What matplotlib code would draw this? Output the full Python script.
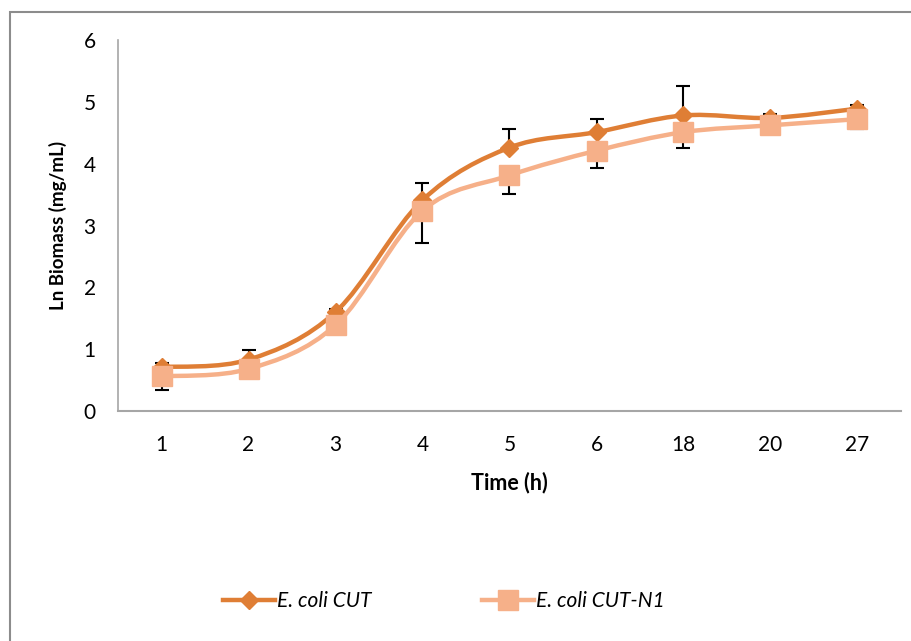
import matplotlib
matplotlib.use("Agg")
from matplotlib import pyplot as plt
from matplotlib.path import Path
from matplotlib.patches import PathPatch, Rectangle
from matplotlib.lines import Line2D
import numpy as np

plt.rcParams['font.family'] = ['Lato', 'DejaVu Sans']

times = ['1', '2', '3', '4', '5', '6', '18', '20', '27']
cut = [0.71, 0.83, 1.60, 3.41, 4.26, 4.51, 4.78, 4.74, 4.89]
cut_err = [0.07, 0.16, 0.05, 0.28, 0.30, 0.21, 0.48, 0.06, 0.06]
n1 = [0.56, 0.68, 1.39, 3.24, 3.81, 4.21, 4.51, 4.62, 4.72]
n1_err = [0.22, 0.05, 0.05, 0.52, 0.30, 0.28, 0.25, 0.05, 0.16]

col_cut = '#DF7E35'
col_n1 = '#F6B089'


def smooth_path(x, y):
    # excel style smoothed line: cubic bezier between points
    pts = np.column_stack([x, y])
    n = len(pts)
    verts = [pts[0]]
    codes = [Path.MOVETO]
    for i in range(n - 1):
        p0 = pts[i - 1] if i > 0 else pts[i]
        p1 = pts[i]
        p2 = pts[i + 1]
        p3 = pts[i + 2] if i + 2 < n else pts[i + 1]
        c1 = p1 + (p2 - p0) / 6
        c2 = p2 - (p3 - p1) / 6
        verts += [c1, c2, p2]
        codes += [Path.CURVE4] * 3
    return Path(verts, codes)


fig = plt.figure(figsize=(9.12, 6.41), dpi=100)
fig.patches.append(Rectangle((10 / 912, -0.1), 1.2, 1.1 - 12 / 641,
                             transform=fig.transFigure, fill=False,
                             edgecolor='#8c8c8c', linewidth=1.5))
ax = fig.add_axes([118 / 912, 1 - 411 / 641, 783 / 912, 371 / 641])

x = np.arange(len(times))

ax.errorbar(x, cut, yerr=[np.zeros(len(cut)), cut_err], fmt='none',
            ecolor='black', elinewidth=1.5, capsize=5, capthick=1.5, zorder=2)
ax.errorbar(x, n1, yerr=[n1_err, np.zeros(len(n1))], fmt='none',
            ecolor='black', elinewidth=1.5, capsize=5, capthick=1.5, zorder=2)

ax.add_patch(PathPatch(smooth_path(x, cut), fill=False, edgecolor=col_cut,
                       linewidth=3.2, zorder=3, capstyle='round'))
ax.plot(x, cut, linestyle='none', marker='D', markersize=9,
        color=col_cut, zorder=4)
ax.add_patch(PathPatch(smooth_path(x, n1), fill=False, edgecolor=col_n1,
                       linewidth=3.2, zorder=5, capstyle='round'))
ax.plot(x, n1, linestyle='none', marker='s', markersize=14,
        color=col_n1, zorder=6)

ax.set_xlim(-0.5, len(times) - 0.5)
ax.set_ylim(0, 6)
ax.set_xticks(x)
ax.set_xticklabels(times)
ax.set_yticks(range(7))
ax.tick_params(length=0, labelsize=15)
ax.tick_params(axis='y', pad=16)
ax.tick_params(axis='x', pad=17)

for s in ['top', 'right']:
    ax.spines[s].set_visible(False)
ax.spines['left'].set_color('#a6a6a6')
ax.spines['bottom'].set_color('#a6a6a6')
ax.spines['left'].set_linewidth(1.2)
ax.spines['bottom'].set_linewidth(1.5)

ax.set_xlabel('Time (h)', fontsize=15.5, fontweight='bold', labelpad=12)
ax.set_ylabel('Ln Biomass (mg/mL)', fontsize=13.5, fontweight='bold', labelpad=12)

handles = [Line2D([], [], color=col_cut, linewidth=3.2, marker='D', markersize=9),
           Line2D([], [], color=col_n1, linewidth=3.2, marker='s', markersize=14)]
fig.legend(handles, ['E. coli CUT', 'E. coli CUT-N1'], loc='center',
           bbox_to_anchor=(0.487, 1 - 601 / 641), ncol=2, frameon=False,
           prop={'size': 15, 'style': 'italic'}, handlelength=2.5,
           handletextpad=0.1, columnspacing=5.3)

fig.savefig('out.png', dpi=100)
